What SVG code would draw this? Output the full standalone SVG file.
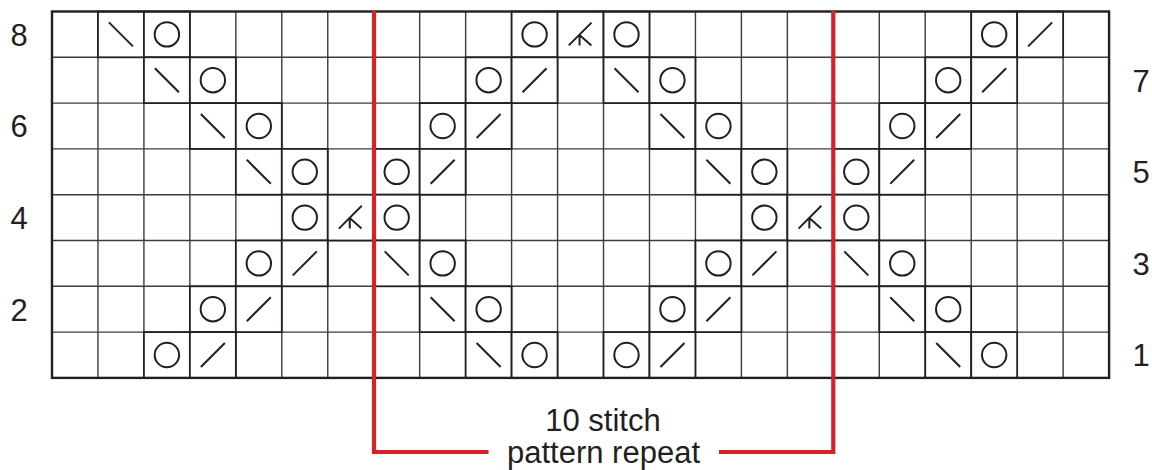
<svg xmlns="http://www.w3.org/2000/svg" xmlns:xlink="http://www.w3.org/1999/xlink" width="1152" height="470" viewBox="0 0 1152 470">
<style>
.grid{stroke:#3c3c3c;stroke-width:1.4;fill:none}
.border{stroke:#231f20;stroke-width:2.4;fill:none}
.cell{stroke:#231f20;stroke-width:1.8;fill:#fff}
.sym{stroke:#231f20;stroke-width:2;fill:none;stroke-linecap:butt}
.red{stroke:#d2232a;stroke-width:4.2;fill:none}
.lbl{font-family:"Liberation Sans",Arial,sans-serif;font-size:31px;fill:#231f20}
</style>
<defs>
<g id="yo"><rect class="cell" x="-22.98" y="-22.9" width="45.96" height="45.8"/><circle class="sym" cx="0" cy="0" r="12.2"/></g>
<g id="ssk"><rect class="cell" x="-22.98" y="-22.9" width="45.96" height="45.8"/><line class="sym" x1="-12" y1="-12" x2="12" y2="12"/></g>
<g id="k2tog"><rect class="cell" x="-22.98" y="-22.9" width="45.96" height="45.8"/><line class="sym" x1="-12" y1="12" x2="12" y2="-12"/></g>
<g id="dec"><rect class="cell" x="-22.98" y="-22.9" width="45.96" height="45.8"/><path class="sym" d="M-11.8,11 L11,-11.8 M-1,0.5 L10.8,11 M-1,0.5 L-1,11"/></g>
</defs>
<rect x="0" y="0" width="1152" height="470" fill="#fff"/>
<g id="grid">
<path class="grid" d="M97.96,11.5V377.9M143.92,11.5V377.9M189.88,11.5V377.9M235.84,11.5V377.9M281.8,11.5V377.9M327.76,11.5V377.9M373.72,11.5V377.9M419.68,11.5V377.9M465.64,11.5V377.9M511.6,11.5V377.9M557.56,11.5V377.9M603.52,11.5V377.9M649.48,11.5V377.9M695.44,11.5V377.9M741.4,11.5V377.9M787.36,11.5V377.9M833.32,11.5V377.9M879.28,11.5V377.9M925.24,11.5V377.9M971.2,11.5V377.9M1017.16,11.5V377.9M1063.12,11.5V377.9M52,57.3H1109.08M52,103.1H1109.08M52,148.9H1109.08M52,194.7H1109.08M52,240.5H1109.08M52,286.3H1109.08M52,332.1H1109.08"/>
</g>
<g id="symbols">
<!-- row 8 -->
<use xlink:href="#ssk" x="120.94" y="34.4"/>
<use xlink:href="#yo" x="166.90" y="34.4"/>
<use xlink:href="#yo" x="534.58" y="34.4"/>
<use xlink:href="#dec" x="580.54" y="34.4"/>
<use xlink:href="#yo" x="626.50" y="34.4"/>
<use xlink:href="#yo" x="994.18" y="34.4"/>
<use xlink:href="#k2tog" x="1040.14" y="34.4"/>
<!-- row 7 -->
<use xlink:href="#ssk" x="166.90" y="80.2"/>
<use xlink:href="#yo" x="212.86" y="80.2"/>
<use xlink:href="#yo" x="488.62" y="80.2"/>
<use xlink:href="#k2tog" x="534.58" y="80.2"/>
<use xlink:href="#ssk" x="626.50" y="80.2"/>
<use xlink:href="#yo" x="672.46" y="80.2"/>
<use xlink:href="#yo" x="948.22" y="80.2"/>
<use xlink:href="#k2tog" x="994.18" y="80.2"/>
<!-- row 6 -->
<use xlink:href="#ssk" x="212.86" y="126.0"/>
<use xlink:href="#yo" x="258.82" y="126.0"/>
<use xlink:href="#yo" x="442.66" y="126.0"/>
<use xlink:href="#k2tog" x="488.62" y="126.0"/>
<use xlink:href="#ssk" x="672.46" y="126.0"/>
<use xlink:href="#yo" x="718.42" y="126.0"/>
<use xlink:href="#yo" x="902.26" y="126.0"/>
<use xlink:href="#k2tog" x="948.22" y="126.0"/>
<!-- row 5 -->
<use xlink:href="#ssk" x="258.82" y="171.8"/>
<use xlink:href="#yo" x="304.78" y="171.8"/>
<use xlink:href="#yo" x="396.70" y="171.8"/>
<use xlink:href="#k2tog" x="442.66" y="171.8"/>
<use xlink:href="#ssk" x="718.42" y="171.8"/>
<use xlink:href="#yo" x="764.38" y="171.8"/>
<use xlink:href="#yo" x="856.30" y="171.8"/>
<use xlink:href="#k2tog" x="902.26" y="171.8"/>
<!-- row 4 -->
<use xlink:href="#yo" x="304.78" y="217.6"/>
<use xlink:href="#dec" x="350.74" y="217.6"/>
<use xlink:href="#yo" x="396.70" y="217.6"/>
<use xlink:href="#yo" x="764.38" y="217.6"/>
<use xlink:href="#dec" x="810.34" y="217.6"/>
<use xlink:href="#yo" x="856.30" y="217.6"/>
<!-- row 3 -->
<use xlink:href="#yo" x="258.82" y="263.4"/>
<use xlink:href="#k2tog" x="304.78" y="263.4"/>
<use xlink:href="#ssk" x="396.70" y="263.4"/>
<use xlink:href="#yo" x="442.66" y="263.4"/>
<use xlink:href="#yo" x="718.42" y="263.4"/>
<use xlink:href="#k2tog" x="764.38" y="263.4"/>
<use xlink:href="#ssk" x="856.30" y="263.4"/>
<use xlink:href="#yo" x="902.26" y="263.4"/>
<!-- row 2 -->
<use xlink:href="#yo" x="212.86" y="309.2"/>
<use xlink:href="#k2tog" x="258.82" y="309.2"/>
<use xlink:href="#ssk" x="442.66" y="309.2"/>
<use xlink:href="#yo" x="488.62" y="309.2"/>
<use xlink:href="#yo" x="672.46" y="309.2"/>
<use xlink:href="#k2tog" x="718.42" y="309.2"/>
<use xlink:href="#ssk" x="902.26" y="309.2"/>
<use xlink:href="#yo" x="948.22" y="309.2"/>
<!-- row 1 -->
<use xlink:href="#yo" x="166.90" y="355.0"/>
<use xlink:href="#k2tog" x="212.86" y="355.0"/>
<use xlink:href="#ssk" x="488.62" y="355.0"/>
<use xlink:href="#yo" x="534.58" y="355.0"/>
<use xlink:href="#yo" x="626.50" y="355.0"/>
<use xlink:href="#k2tog" x="672.46" y="355.0"/>
<use xlink:href="#ssk" x="948.22" y="355.0"/>
<use xlink:href="#yo" x="994.18" y="355.0"/>
</g>
<rect id="border" class="border" x="52" y="11.5" width="1057.08" height="366.4"/>
<g id="row-labels" class="lbl" text-anchor="middle">
<text x="19" y="45.8">8</text>
<text x="19" y="137.4">6</text>
<text x="19" y="229">4</text>
<text x="19" y="320.6">2</text>
<text x="1141" y="91.6">7</text>
<text x="1141" y="183.2">5</text>
<text x="1141" y="274.8">3</text>
<text x="1141" y="366.4">1</text>
</g>
<g id="repeat">
<path class="red" d="M374,11 V452 H488.5 M719,452 H833.3 V11"/>
<g class="lbl" text-anchor="middle">
<text x="603" y="430.5">10 stitch</text>
<text x="603.5" y="463">pattern repeat</text>
</g>
</g>
</svg>
